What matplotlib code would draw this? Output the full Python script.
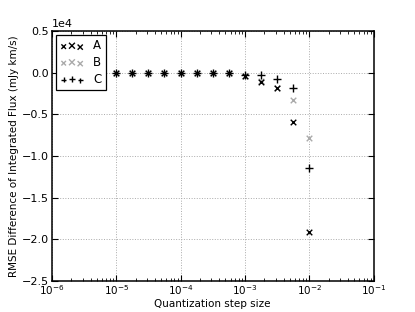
import numpy as np
import matplotlib
matplotlib.use("Agg")
import matplotlib.pyplot as plt
from matplotlib.legend_handler import HandlerPathCollection

# quantization step sizes (quarter decades from 1e-5 to 1e-2)
steps = [1e-5, 1.78e-5, 3.16e-5, 5.62e-5, 1e-4, 1.78e-4, 3.16e-4,
         5.62e-4, 1e-3, 1.78e-3, 3.16e-3, 5.62e-3, 1e-2]

# RMSE differences (mJy km/s)
rmse_a = [0, 0, 0, 0, 0, 0, -20, -60, -420, -1080, -1870, -5950, -19160]
rmse_b = [0, 0, 0, 0, 0, 0, -15, -50, -350, -1000, -1800, -3280, -7800]
rmse_c = [0, 0, 0, 0, 0, 0, -10, -40, -260, -280, -800, -1840, -11480]

plt.rcParams['font.size'] = 8
plt.rcParams['xtick.direction'] = 'in'
plt.rcParams['ytick.direction'] = 'in'

fig = plt.figure(figsize=(4.15, 3.12), dpi=100)
ax = fig.add_axes([0.125, 0.1, 0.775, 0.8])

sa = ax.scatter(steps, rmse_a, marker='x', s=16, c='black', linewidths=1.0, label='A', zorder=3)
sb = ax.scatter(steps, rmse_b, marker='x', s=16, c='#aaaaaa', linewidths=1.0, label='B', zorder=2)
sc = ax.scatter(steps, rmse_c, marker='+', s=28, c='black', linewidths=1.0, label='C', zorder=3)

ax.set_xscale('log')
ax.set_xlim(1e-6, 1e-1)
ax.set_ylim(-25000, 5000)
ax.set_yticks(np.arange(-25000, 5001, 5000))
ax.ticklabel_format(axis='y', style='sci', scilimits=(0, 0))

ax.grid(True, linestyle=':', color='#aaaaaa', linewidth=0.7)
ax.tick_params(which='both', top=True, right=True)
ax.tick_params(axis='x', labelsize=7.5, pad=2)
ax.tick_params(axis='y', labelsize=8, pad=2)
ax.tick_params(which='major', length=4)
ax.tick_params(which='minor', length=2)
for sp in ax.spines.values():
    sp.set_linewidth(1.1)

ax.set_xlabel('Quantization step size', fontsize=7.5, labelpad=1)
ax.set_ylabel('RMSE Difference of Integrated Flux (mJy km/s)', fontsize=7.5, labelpad=2)

hmap = {h: HandlerPathCollection(sizes=[11, 18, 14]) for h in (sa, sb, sc)}
leg = ax.legend(loc='upper left', scatterpoints=3, handler_map=hmap,
                fancybox=False, edgecolor='black', framealpha=1,
                fontsize=8.5, handlelength=2.0, handletextpad=0.8,
                borderaxespad=0.35, labelspacing=0.3, borderpad=0.35,
                handleheight=0.6)
leg.get_frame().set_linewidth(0.9)

fig.savefig('out.png', dpi=100)
